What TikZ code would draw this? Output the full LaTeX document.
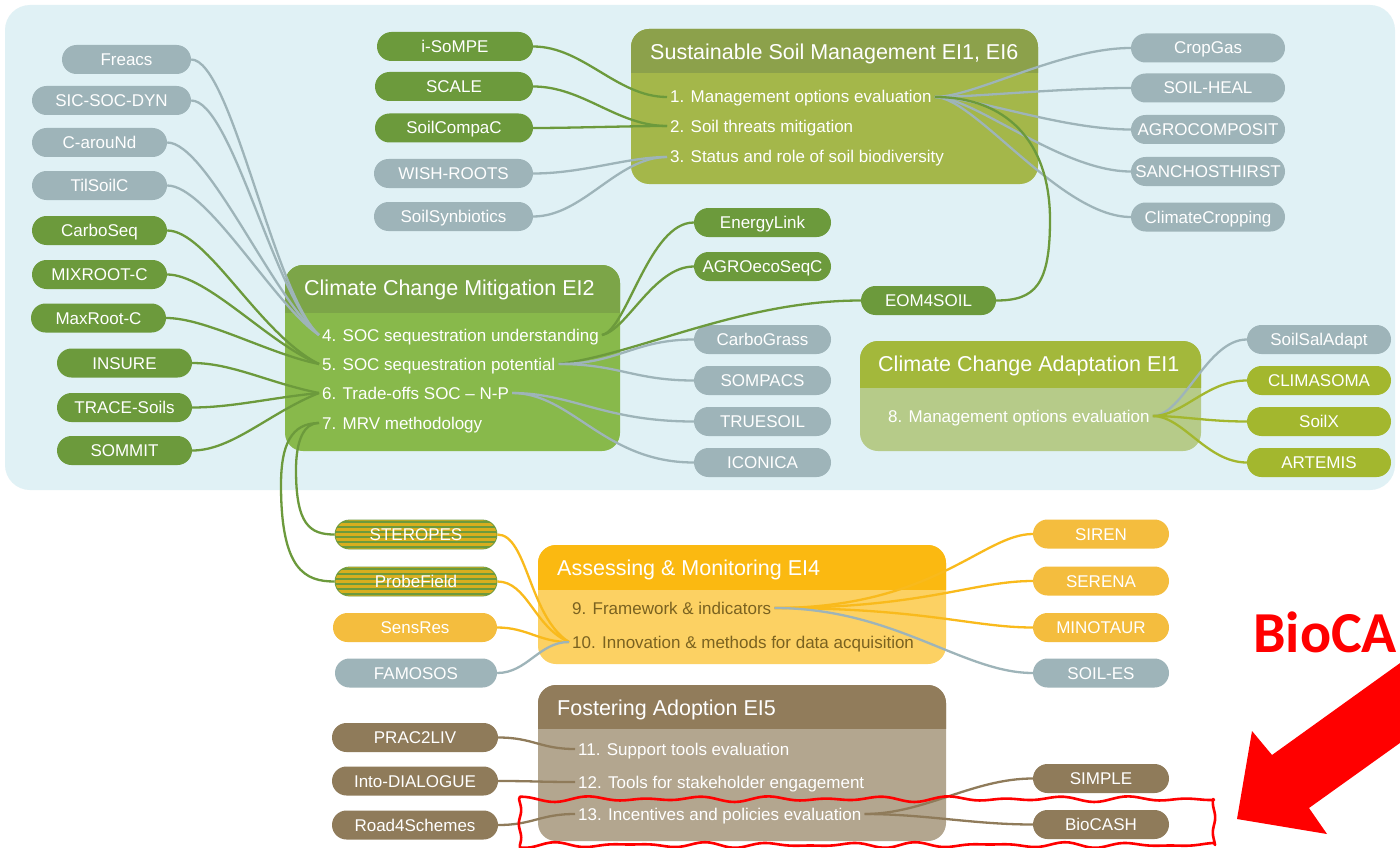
\documentclass[tikz,border=0pt]{standalone}
\usepackage{fontspec}
\setmainfont{Liberation Sans}
\newfontfamily\calib{Carlito}
\definecolor{bgblue}{HTML}{E0F1F5}
\definecolor{cgrey}{HTML}{9EB4B9}
\definecolor{cgreen}{HTML}{6C9A3C}
\definecolor{colive}{HTML}{A3B72E}
\definecolor{cyellow}{HTML}{F4BD3E}
\definecolor{lyellow}{HTML}{F9BA1C}
\definecolor{cbrown}{HTML}{8F7B5A}
\definecolor{cochre}{HTML}{D8AE1E}
\definecolor{ssmhead}{HTML}{8CA14B}
\definecolor{ssmbody}{HTML}{A4B74A}
\definecolor{ccmhead}{HTML}{7CA548}
\definecolor{ccmbody}{HTML}{88B94B}
\definecolor{ccahead}{HTML}{A3B83B}
\definecolor{ccabody}{HTML}{B6CB89}
\definecolor{amhead}{HTML}{FBB911}
\definecolor{ambody}{HTML}{FCD163}
\definecolor{fahead}{HTML}{917C5B}
\definecolor{fabody}{HTML}{B3A68F}
\definecolor{amtext}{HTML}{7A6220}
\newcommand\mmpanel[7]{%
  \fill[#7, rounded corners=18pt] (#1,#2) rectangle (#3,#4);
  \begin{scope}
    \clip (#1,#2) rectangle (#3,#5);
    \fill[#6, rounded corners=18pt] (#1,#2) rectangle (#3,#4);
  \end{scope}}
\begin{document}
\begin{tikzpicture}[x=1pt,y=-1pt,
  pill/.style={rounded corners=14.5pt, minimum height=29pt, inner sep=0pt, text=white,
    font=\fontsize{17}{17}\selectfont, text height=12pt, text depth=0pt},
  gpill/.style={pill, fill=cgrey},
  grpill/.style={pill, fill=cgreen},
  opill/.style={pill, fill=colive},
  ypill/.style={pill, fill=cyellow},
  bpill/.style={pill, fill=cbrown},
  striped/.style={pill, fill=cochre, draw=cgreen, line width=0.8pt,
    path picture={\foreach \k in {-12.5,-7.5,...,12.5}
      \draw[cgreen, line width=1.3pt] ([yshift=\k pt]path picture bounding box.west) -- ([yshift=\k pt]path picture bounding box.east);}},
  item/.style={anchor=west, inner sep=3pt, text=white, font=\fontsize{17}{17}\selectfont,
    text height=12pt, text depth=0pt},
  ptitle/.style={anchor=west, inner sep=0pt, text=white, font=\fontsize{21.5}{22}\selectfont,
    text height=15pt, text depth=0pt},
  link/.style={line width=2.3pt}
]
\useasboundingbox (0,0) rectangle (1400,848);
\clip (0,0) rectangle (1400,848);
\fill[white] (0,0) rectangle (1400,848);
\fill[bgblue, rounded corners=25pt] (5,5) rectangle (1395,490);

% panels
\mmpanel{631}{29}{1038}{184}{73}{ssmhead}{ssmbody}
\mmpanel{285}{265}{620}{451}{312}{ccmhead}{ccmbody}
\mmpanel{860}{341}{1201}{451}{387}{ccahead}{ccabody}
\mmpanel{538}{545}{946}{664}{589}{amhead}{ambody}
\mmpanel{538}{685}{946}{841}{728}{fahead}{fabody}

% titles
\node[ptitle] (tssm) at (650,52) {Sustainable Soil Management EI1, EI6};
\node[ptitle] (tccm) at (304,288) {Climate Change Mitigation EI2};
\node[ptitle] (tcca) at (878,364) {Climate Change Adaptation EI1};
\node[ptitle] (tam) at (557,568) {Assessing \& Monitoring EI4};
\node[ptitle] (tfa) at (557,708) {Fostering Adoption EI5};

% items
\node[item] (i1) at (667,97) {1. Management options evaluation};
\node[item] (i2) at (667,126) {2. Soil threats mitigation};
\node[item] (i3) at (667,157) {3. Status and role of soil biodiversity};
\node[item] (i4) at (319,335) {4. SOC sequestration understanding};
\node[item] (i5) at (319,364) {5. SOC sequestration potential};
\node[item] (i6) at (319,393) {6. Trade-offs SOC – N-P};
\node[item] (i7) at (319,423) {7. MRV methodology};
\node[item] (i8) at (885,416) {8. Management options evaluation};
\node[item, text=amtext] (i9) at (569,608) {9. Framework \& indicators};
\node[item, text=amtext] (i10) at (569,642) {10. Innovation \& methods for data acquisition};
\node[item] (i11) at (575,749) {11. Support tools evaluation};
\node[item] (i12) at (575,782) {12. Tools for stakeholder engagement};
\node[item] (i13) at (575,814) {13. Incentives and policies evaluation};

% pills
\node[gpill, minimum width=129pt] (freacs) at (126.5,59.5) {Freacs};
\node[gpill, minimum width=159pt] (sic) at (111.5,100.5) {SIC-SOC-DYN};
\node[gpill, minimum width=135pt] (caround) at (99.5,142.5) {C-arouNd};
\node[gpill, minimum width=135pt] (tilsoil) at (99.5,185.5) {TilSoilC};
\node[grpill, minimum width=135pt] (carboseq) at (99.5,230.5) {CarboSeq};
\node[grpill, minimum width=135pt] (mixroot) at (99.5,274.5) {MIXROOT-C};
\node[grpill, minimum width=135pt] (maxroot) at (98.5,318) {MaxRoot-C};
\node[grpill, minimum width=135pt] (insure) at (124.5,363) {INSURE};
\node[grpill, minimum width=135pt] (trace) at (124.5,407.5) {TRACE-Soils};
\node[grpill, minimum width=135pt] (sommit) at (124.5,450.5) {SOMMIT};

\node[grpill, minimum width=156pt] (isompe) at (455,46.5) {i-SoMPE};
\node[grpill, minimum width=158pt] (scale) at (454,86.5) {SCALE};
\node[grpill, minimum width=158pt] (compac) at (454,128) {SoilCompaC};
\node[gpill, minimum width=159pt] (wish) at (453.5,173.5) {WISH-ROOTS};
\node[gpill, minimum width=159pt] (synb) at (453.5,216.5) {SoilSynbiotics};

\node[gpill, minimum width=154pt] (cropgas) at (1208,48) {CropGas};
\node[gpill, minimum width=154pt] (soilheal) at (1208,88) {SOIL-HEAL};
\node[gpill, minimum width=154pt] (agrocomp) at (1208,129.5) {AGROCOMPOSIT};
\node[gpill, minimum width=154pt] (sancho) at (1208,171.5) {SANCHOSTHIRST};
\node[gpill, minimum width=154pt] (climcrop) at (1208,217) {ClimateCropping};

\node[grpill, minimum width=137pt] (energy) at (762.5,222.5) {EnergyLink};
\node[grpill, minimum width=137pt] (agroeco) at (762.5,266.5) {AGROecoSeqC};
\node[grpill, minimum width=135pt] (eom) at (928.5,300.5) {EOM4SOIL};
\node[gpill, minimum width=137pt] (carbograss) at (762.5,339.5) {CarboGrass};
\node[gpill, minimum width=137pt] (sompacs) at (762.5,380.5) {SOMPACS};
\node[gpill, minimum width=137pt] (truesoil) at (762.5,421.5) {TRUESOIL};
\node[gpill, minimum width=137pt] (iconica) at (762.5,462.5) {ICONICA};

\node[gpill, minimum width=144pt] (soilsal) at (1319,339.5) {SoilSalAdapt};
\node[opill, minimum width=144pt] (climasoma) at (1319,380.5) {CLIMASOMA};
\node[opill, minimum width=144pt] (soilx) at (1319,421.5) {SoilX};
\node[opill, minimum width=144pt] (artemis) at (1319,462.5) {ARTEMIS};

\node[striped, minimum width=162pt] (steropes) at (416,534.5) {STEROPES};
\node[striped, minimum width=162pt] (probe) at (416,581.5) {ProbeField};
\node[ypill, minimum width=164pt] (sensres) at (415,627.5) {SensRes};
\node[gpill, minimum width=162pt] (famosos) at (416,673) {FAMOSOS};

\node[ypill, minimum width=136pt] (siren) at (1101,534) {SIREN};
\node[ypill, minimum width=136pt] (serena) at (1101,581) {SERENA};
\node[ypill, minimum width=136pt] (minotaur) at (1101,627.5) {MINOTAUR};
\node[gpill, minimum width=136pt] (soiles) at (1101,673) {SOIL-ES};

\node[bpill, minimum width=166pt] (prac) at (415,737.5) {PRAC2LIV};
\node[bpill, minimum width=166pt] (intodia) at (415,781) {Into-DIALOGUE};
\node[bpill, minimum width=166pt] (road) at (415,825) {Road4Schemes};
\node[bpill, minimum width=136pt] (simple) at (1101,778.5) {SIMPLE};
\node[bpill, minimum width=136pt] (biocash) at (1101,824.5) {BioCASH};

% connectors
\draw[link, cgrey] (freacs.east) .. controls +(40,0) and +(-45,-40) .. (i4.west);
\draw[link, cgrey] (sic.east) .. controls +(40,0) and +(-45,-40) .. (i4.west);
\draw[link, cgrey] (caround.east) .. controls +(40,0) and +(-45,-35) .. (i4.west);
\draw[link, cgrey] (tilsoil.east) .. controls +(40,0) and +(-45,-30) .. (i4.west);
\draw[link, cgreen] (carboseq.east) .. controls +(40,0) and +(-60,-30) .. (i5.west);
\draw[link, cgreen] (mixroot.east) .. controls +(40,0) and +(-50,-20) .. (i5.west);
\draw[link, cgreen] (maxroot.east) .. controls +(40,0) and +(-50,-10) .. (i5.west);
\draw[link, cgreen] (insure.east) .. controls +(40,0) and +(-50,-10) .. (i6.west);
\draw[link, cgreen] (trace.east) .. controls +(40,0) and +(-50,5) .. (i6.west);
\draw[link, cgreen] (sommit.east) .. controls +(40,0) and +(-50,20) .. (i6.west);
\draw[link, cgreen] (i7.west) .. controls +(-15,0) and (296,440) .. (296,470) .. controls (296,525) and (310,534.5) .. (steropes.west);
\draw[link, cgreen] (i7.west) .. controls +(-28,0) and (281,445) .. (281,485) .. controls (281,570) and (305,581.5) .. (probe.west);

\draw[link, cgreen] (isompe.east) .. controls +(50,0) and +(-50,0) .. (i1.west);
\draw[link, cgreen] (scale.east) .. controls +(50,0) and +(-50,0) .. (i2.west);
\draw[link, cgreen] (compac.east) .. controls +(40,0) and +(-40,0) .. (i2.west);
\draw[link, cgrey] (wish.east) .. controls +(50,0) and +(-40,0) .. (i3.west);
\draw[link, cgrey] (synb.east) .. controls +(50,0) and +(-50,0) .. (i3.west);

\draw[link, cgrey] (i1.east) .. controls +(40,0) and +(-70,0) .. (cropgas.west);
\draw[link, cgrey] (i1.east) .. controls +(40,0) and +(-70,0) .. (soilheal.west);
\draw[link, cgrey] (i1.east) .. controls +(40,0) and +(-70,0) .. (agrocomp.west);
\draw[link, cgrey] (i1.east) .. controls +(40,0) and +(-70,0) .. (sancho.west);
\draw[link, cgrey] (i1.east) .. controls +(40,0) and +(-70,0) .. (climcrop.west);
\draw[link, cgreen] (i1.east) .. controls +(70,0) and (1050,140) .. (1050,220) .. controls (1050,285) and (1035,300.5) .. (eom.east);

\draw[link, cgreen] (i4.east) .. controls +(25,-5) and +(-45,0) .. (energy.west);
\draw[link, cgreen] (i4.east) .. controls +(25,-5) and +(-40,0) .. (agroeco.west);
\draw[link, cgreen] (i5.east) .. controls +(80,-10) and +(-120,0) .. (eom.west);
\draw[link, cgrey] (i5.east) .. controls +(60,0) and +(-60,0) .. (carbograss.west);
\draw[link, cgrey] (i5.east) .. controls +(60,0) and +(-60,0) .. (sompacs.west);
\draw[link, cgrey] (i6.east) .. controls +(60,0) and +(-90,0) .. (truesoil.west);
\draw[link, cgrey] (i6.east) .. controls +(60,0) and +(-90,0) .. (iconica.west);

\draw[link, cgrey] (i8.east) .. controls +(30,0) and +(-40,0) .. (soilsal.west);
\draw[link, colive] (i8.east) .. controls +(30,0) and +(-40,0) .. (climasoma.west);
\draw[link, colive] (i8.east) .. controls +(30,0) and +(-40,0) .. (soilx.west);
\draw[link, colive] (i8.east) .. controls +(30,0) and +(-40,0) .. (artemis.west);

\draw[link, lyellow] (steropes.east) .. controls +(30,0) and +(-40,-25) .. (i10.west);
\draw[link, lyellow] (probe.east) .. controls +(30,0) and +(-35,-15) .. (i10.west);
\draw[link, lyellow] (sensres.east) .. controls +(30,0) and +(-30,0) .. (i10.west);
\draw[link, cgrey] (famosos.east) .. controls +(30,0) and +(-30,0) .. (i10.west);

\draw[link, lyellow] (i9.east) .. controls +(160,0) and +(-50,0) .. (siren.west);
\draw[link, lyellow] (i9.east) .. controls +(150,0) and +(-60,0) .. (serena.west);
\draw[link, lyellow] (i9.east) .. controls +(150,0) and +(-60,0) .. (minotaur.west);
\draw[link, cgrey] (i9.east) .. controls +(120,0) and +(-70,0) .. (soiles.west);

\draw[link, cbrown] (prac.east) .. controls +(35,0) and +(-35,0) .. (i11.west);
\draw[link, cbrown] (intodia.east) .. controls +(35,0) and +(-35,0) .. (i12.west);
\draw[link, cbrown] (road.east) .. controls +(35,0) and +(-35,0) .. (i13.west);
\draw[link, cbrown] (i13.east) .. controls +(60,0) and +(-60,0) .. (simple.west);
\draw[link, cbrown] (i13.east) .. controls +(60,0) and +(-60,0) .. (biocash.west);

% red annotation
\draw[red, line width=2.6pt, line join=round]
  plot[domain=520:1214, samples=140] (\x, {799+1.7*sin(6*\x)+1.3*sin(4*\x+40)})
  -- plot[domain=799:845, samples=20] ({1214+1.2*sin(12*\x)}, \x)
  -- plot[domain=1214:520, samples=140] (\x, {845+1.7*sin(5*\x)+1.2*sin(7*\x)})
  -- plot[domain=845:799, samples=20] ({520+1.2*sin(13*\x)}, \x) -- cycle;
\fill[red] (1237,819) -- (1252,731) -- (1272,755) -- (1460,620) -- (1460,700) -- (1309,808) -- (1327,834) -- cycle;
\node[anchor=base west, inner sep=0pt, text=red, font=\calib\bfseries\fontsize{58}{58}\selectfont] (bioca) at (1253,652) {BioCA};
\end{tikzpicture}
\end{document}
